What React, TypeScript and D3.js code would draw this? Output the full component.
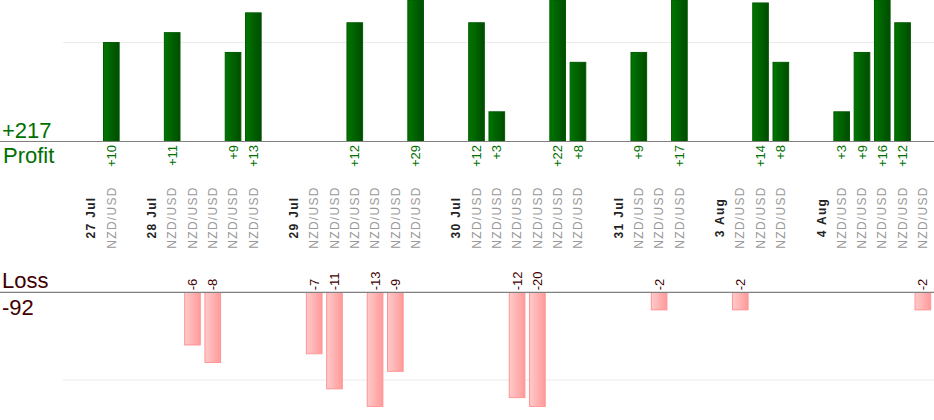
import React from "react";
import * as d3 from "d3";

const dayLabels = ["27 Jul", "28 Jul", "29 Jul", "30 Jul", "31 Jul", "3 Aug", "4 Aug"];
const pairName = "NZD/USD";
const trades27Jul = [10];
const trades28Jul = [11, -6, -8, 9, 13];
const trades29Jul = [-7, -11, 12, -13, -9, 29];
const trades30Jul = [12, 3, -12, -20, 22, 8];
const trades31Jul = [9, -2, 17];
const trades3Aug = [-2, 14, 8];
const trades4Aug = [3, 9, 16, 12, -2];
const dayTrades = [trades27Jul, trades28Jul, trades29Jul, trades30Jul, trades31Jul, trades3Aug, trades4Aug];
const profitGrid = [10];
const lossGrid = [10];

type Slot = { id: string; kind: "gap" | "date" | "trade"; label?: string; value?: number };

const W = 934;
const H = 420;
const FONT = "'Liberation Sans', Arial, sans-serif";

export default function App() {
  const slots: Slot[] = [];
  dayLabels.forEach((d, i) => {
    slots.push({ id: `g${i}`, kind: "gap" });
    slots.push({ id: `d${i}`, kind: "date", label: d });
    dayTrades[i].forEach((v, j) => slots.push({ id: `t${i}_${j}`, kind: "trade", label: pairName, value: v }));
  });
  const trades = slots.filter((s) => s.kind === "trade");
  const totalProfit = d3.sum(trades, (s) => (s.value! > 0 ? s.value! : 0));
  const totalLoss = d3.sum(trades, (s) => (s.value! < 0 ? s.value! : 0));

  const x = d3
    .scaleBand<string>()
    .domain(slots.map((s) => s.id))
    .range([60.6, 933])
    .paddingInner(0.18)
    .paddingOuter(0.09);
  const bw = x.bandwidth();
  const cx = (id: string) => (x(id) as number) + bw / 2;

  const topAxis = 141.5;
  const botAxis = 292.3;
  const yTop = d3.scaleLinear().domain([0, 14.3]).range([topAxis, 0]).clamp(true);
  const yBot = d3.scaleLinear().domain([0, 13]).range([botAxis, 406.4]).clamp(true);

  return (
    <svg
      width={W}
      height={H}
      style={{ position: "absolute", left: 0, top: 0, background: "#fff" }}
      fontFamily={FONT}
    >
      <defs>
        <linearGradient id="gGreen" x1="0" x2="1" y1="0" y2="0">
          <stop offset="0" stopColor="#007600" />
          <stop offset="1" stopColor="#004c00" />
        </linearGradient>
        <linearGradient id="gPink" x1="0" x2="1" y1="0" y2="0">
          <stop offset="0" stopColor="#ffcaca" />
          <stop offset="1" stopColor="#ff9a9a" />
        </linearGradient>
        <clipPath id="clipTop">
          <rect x={0} y={0} width={W} height={topAxis} />
        </clipPath>
        <clipPath id="clipBot">
          <rect x={0} y={botAxis} width={W} height={406.4 - botAxis + 0.5} />
        </clipPath>
      </defs>

      {profitGrid.map((g) => (
        <line key={`pg${g}`} x1={63} x2={W} y1={yTop(g)} y2={yTop(g)} stroke="#ebebeb" strokeWidth={1} />
      ))}
      {lossGrid.map((g) => (
        <line key={`lg${g}`} x1={63} x2={W} y1={yBot(g)} y2={yBot(g)} stroke="#ebebeb" strokeWidth={1} />
      ))}

      <g clipPath="url(#clipTop)">
        {trades
          .filter((s) => s.value! > 0)
          .map((s) => (
            <rect
              key={s.id}
              x={(x(s.id) as number) + 0.5}
              y={yTop(s.value!)}
              width={bw - 1}
              height={topAxis - yTop(s.value!)}
              fill="url(#gGreen)"
              stroke="#005a00"
              strokeWidth={1}
            />
          ))}
      </g>
      <g clipPath="url(#clipBot)">
        {trades
          .filter((s) => s.value! < 0)
          .map((s) => (
            <rect
              key={s.id}
              x={(x(s.id) as number) + 0.5}
              y={botAxis}
              width={bw - 1}
              height={yBot(-s.value!) - botAxis}
              fill="url(#gPink)"
              stroke="#ff9494"
              strokeWidth={1}
            />
          ))}
      </g>

      <line x1={0} x2={W} y1={topAxis} y2={topAxis} stroke="#808080" strokeWidth={1.2} />
      <line x1={0} x2={W} y1={botAxis} y2={botAxis} stroke="#808080" strokeWidth={1.2} />

      {trades
        .filter((s) => s.value! > 0)
        .map((s) => (
          <text
            key={`pl${s.id}`}
            transform={`translate(${cx(s.id)},${topAxis + 3.5}) rotate(-90)`}
            textAnchor="end"
            dy="0.35em"
            fontSize={13}
            fill="#007000"
          >
            {`+${s.value}`}
          </text>
        ))}
      {trades
        .filter((s) => s.value! < 0)
        .map((s) => (
          <text
            key={`ll${s.id}`}
            transform={`translate(${cx(s.id)},${botAxis - 2}) rotate(-90)`}
            textAnchor="start"
            dy="0.35em"
            fontSize={13}
            fill="#3f0000"
          >
            {`${s.value}`}
          </text>
        ))}

      {slots
        .filter((s) => s.kind !== "gap")
        .map((s) => (
          <text
            key={`cl${s.id}`}
            transform={`translate(${cx(s.id)},217.5) rotate(-90)`}
            textAnchor="middle"
            dy="0.35em"
            fontSize={12}
            letterSpacing={1.3}
            fontWeight={s.kind === "date" ? "bold" : "normal"}
            fill={s.kind === "date" ? "#222" : "#999"}
          >
            {s.label}
          </text>
        ))}

      <text x={2} y={138} fontSize={22} fill="#007000">{`+${totalProfit}`}</text>
      <text x={3} y={162.5} fontSize={22} fill="#007000">Profit</text>
      <text x={2} y={287.7} fontSize={22} fill="#3f0000">Loss</text>
      <text x={2} y={315} fontSize={22} fill="#3f0000">{`${totalLoss}`}</text>
    </svg>
  );
}
